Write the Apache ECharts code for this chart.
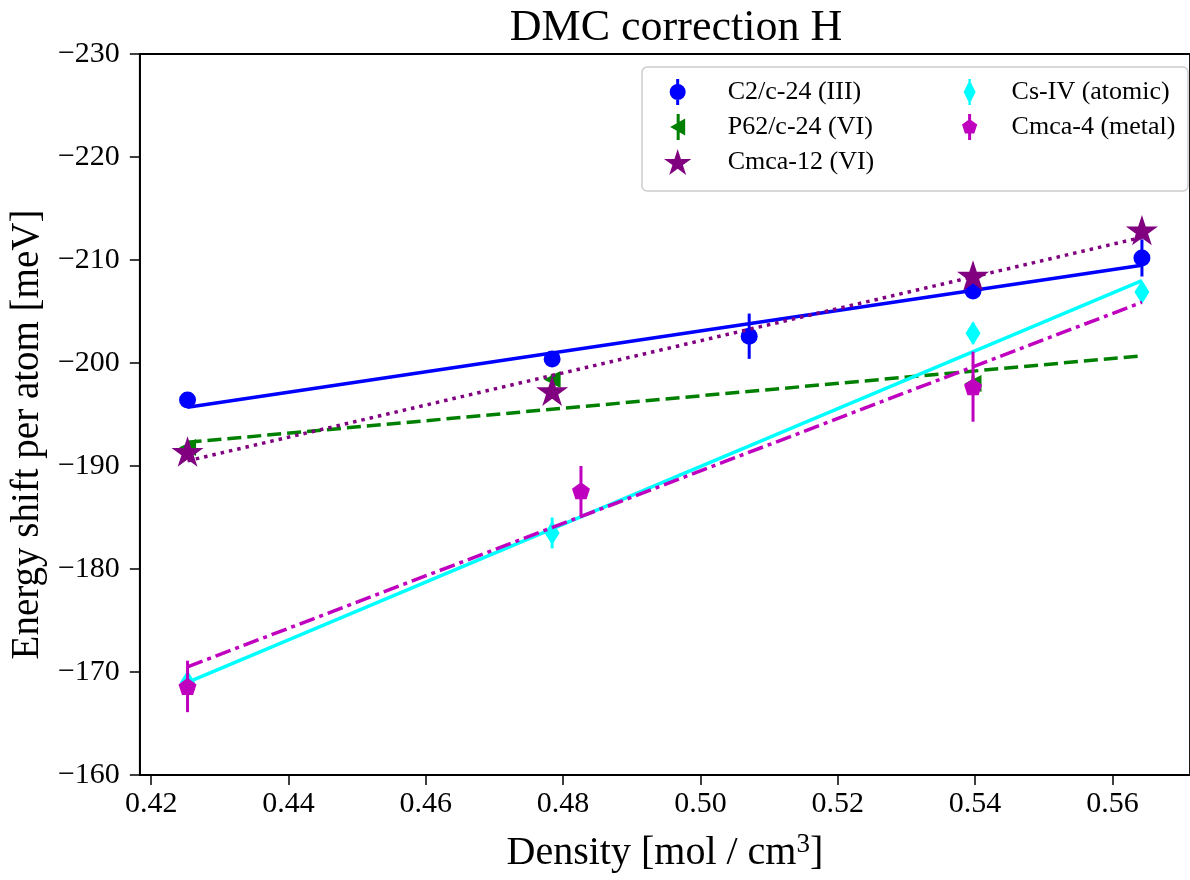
<!DOCTYPE html>
<html>
<head>
<meta charset="utf-8">
<script src="https://cdn.jsdelivr.net/npm/echarts@6/dist/echarts.min.js"></script>
<style>
html,body{margin:0;padding:0;background:#fff;overflow:hidden;}
#chart{width:1190px;height:880px;}
</style>
</head>
<body>
<div id="chart"></div>
<script>
// ---- data ----
const xTicks = [0.42, 0.44, 0.46, 0.48, 0.50, 0.52, 0.54, 0.56];

const c2cX = [0.4253, 0.4784, 0.5071, 0.5397, 0.5643];
const c2cY = [-196.4, -200.4, -202.6, -207.0, -210.2];
const c2cErr = [0.5, 0.5, 2.2, 0.6, 1.8];

const p62X = [0.4253, 0.4784, 0.5397];
const p62Y = [-191.8, -198.4, -198.0];
const p62Err = [0.5, 0.5, 0.8];

const cmca12X = [0.4253, 0.4784, 0.5397, 0.5643];
const cmca12Y = [-191.4, -197.3, -208.5, -212.9];
const cmca12Err = [0.5, 0.5, 0.5, 0.5];

const csIVX = [0.4253, 0.4784, 0.5397, 0.5643];
const csIVY = [-169.0, -183.5, -202.9, -206.9];
const csIVErr = [0.8, 1.5, 1.0, 0.8];

const cmca4X = [0.4253, 0.4826, 0.5397];
const cmca4Y = [-168.6, -187.6, -197.7];
const cmca4Err = [2.5, 2.4, 3.4];

// fit lines (end points)
const fitX = [0.4253, 0.5643];
const c2cFit = [-195.7, -209.5];
const p62Fit = [-192.3, -200.7];
const cmca12Fit = [-190.5, -212.2];
const csIVFit = [-169.0, -208.0];
const cmca4Fit = [-170.5, -205.9];

const names = ['C2/c-24 (III)', 'P62/c-24 (VI)', 'Cmca-12 (VI)', 'Cs-IV (atomic)', 'Cmca-4 (metal)'];

// ---- styling ----
const FONT = '"Liberation Serif", "DejaVu Serif", serif';
const starPath = 'path://M10,0L12.245,6.91L19.51,6.91L13.633,11.18L15.88,18.09L10,13.82L4.12,18.09L6.367,11.18L0.49,6.91L7.755,6.91Z';
const pentPath = 'path://M10,0L19.51,6.91L15.88,18.09L4.12,18.09L0.49,6.91Z';

const iconCircle = 'path://M8.5,0H11.5V26H8.5ZM10,5A8,8 0 1 1 10,21A8,8 0 1 1 10,5Z';
const iconTri = 'path://M8.5,0H11.5V26H8.5ZM2,13L17,4.5L17,21.5Z';
const iconStar = starPath;
const iconDiamond = 'path://M8.8,0H11.2V26H8.8ZM10,1L16,13L10,25L4,13Z';
const iconPent = 'path://M8.5,0H11.5V26H8.5ZM10,5L17.61,10.53L14.7,19.47L5.3,19.47L2.39,10.53Z';

function buildSeries(idx, name, X, Y, Err, fit, color, symbol, size, rotate, lineType) {
  const base = 10 + idx * 4;
  const errData = X.map((x, i) => [x, Y[i] - Err[i], Y[i] + Err[i]]);
  const ptData = X.map((x, i) => [x, Y[i]]);
  const fitData = fitX.map((x, i) => [x, fit[i]]);
  return [
    {
      type: 'custom', name: name + ' err', z: base, silent: true,
      data: errData, encode: {x: 0, y: [1, 2]},
      renderItem: function (params, api) {
        const p1 = api.coord([api.value(0), api.value(1)]);
        const p2 = api.coord([api.value(0), api.value(2)]);
        return {type: 'line', shape: {x1: p1[0], y1: p1[1], x2: p2[0], y2: p2[1]},
                style: {stroke: color, lineWidth: 3}};
      }
    },
    {
      type: 'scatter', name: name, z: base + 1, data: ptData,
      symbol: symbol, symbolSize: size, symbolRotate: rotate, symbolKeepAspect: true,
      itemStyle: {color: color, opacity: 1}, emphasis: {disabled: true}
    },
    {
      type: 'line', name: name + ' fit', z: base + 2, data: fitData,
      showSymbol: false, symbol: 'none', silent: true,
      lineStyle: {color: color, width: 3.5, type: lineType, cap: 'butt'},
      itemStyle: {color: color}
    }
  ];
}

const series = [].concat(
  buildSeries(0, names[0], c2cX, c2cY, c2cErr, c2cFit, '#0000ff', 'circle', 17, 0, 'solid'),
  buildSeries(1, names[1], p62X, p62Y, p62Err, p62Fit, '#008000', 'triangle', 17, 90, [14, 6]),
  buildSeries(2, names[2], cmca12X, cmca12Y, cmca12Err, cmca12Fit, '#800080', starPath, 32, 0, [3.5, 5]),
  buildSeries(3, names[3], csIVX, csIVY, csIVErr, csIVFit, '#00ffff', 'diamond', [15, 24], 0, 'solid'),
  buildSeries(4, names[4], cmca4X, cmca4Y, cmca4Err, cmca4Fit, '#bf00bf', pentPath, 18, 0, [16, 5, 4, 5])
);

const legendText = {fontSize: 26, fontFamily: FONT, color: '#000'};

const option = {
  animation: false,
  backgroundColor: '#fff',
  title: {
    text: 'DMC correction H', left: 671, top: 1, textAlign: 'center',
    textStyle: {fontSize: 44, fontWeight: 'normal', fontFamily: FONT, color: '#000'}
  },
  grid: {
    left: 137, top: 54, width: 1069, height: 730, containLabel: false,
    show: true, borderColor: '#000', borderWidth: 1.8, backgroundColor: 'transparent'
  },
  xAxis: {
    type: 'value', min: 0.41835, max: 0.5713,
    axisLine: {show: true, lineStyle: {color: '#000', width: 1.8}},
    axisTick: {show: true, customValues: xTicks, length: 10, lineStyle: {color: '#000', width: 1.5}},
    axisLabel: {customValues: xTicks, formatter: v => v.toFixed(2), fontSize: 30, fontFamily: FONT, color: '#000', margin: 14},
    splitLine: {show: false},
    name: 'Density [mol / cm{sup|3}]', nameLocation: 'middle', nameGap: 56,
    nameTextStyle: {
      fontSize: 40, fontFamily: FONT, color: '#000', lineHeight: 44,
      rich: {sup: {fontSize: 27, fontFamily: FONT, color: '#000', verticalAlign: 'top', lineHeight: 27}}
    }
  },
  yAxis: {
    type: 'value', min: -230, max: -160, interval: 10, inverse: true,
    axisLine: {show: true, lineStyle: {color: '#000', width: 1.8}},
    axisTick: {show: true, length: 10, lineStyle: {color: '#000', width: 1.5}},
    axisLabel: {formatter: v => '\u2212' + Math.abs(v), fontSize: 30, fontFamily: FONT, color: '#000', margin: 20},
    splitLine: {show: false},
    name: 'Energy shift per atom [meV]', nameLocation: 'middle', nameGap: 77,
    nameTextStyle: {fontSize: 39, fontFamily: FONT, color: '#000', padding: [0, 40, 0, 0]}
  },
  graphic: [{
    type: 'rect', z: 50,
    shape: {x: 642, y: 67, width: 546, height: 124, r: 5},
    style: {fill: 'rgba(255,255,255,0.85)', stroke: '#cccccc', lineWidth: 1.5}
  }],
  legend: [
    {
      orient: 'vertical', left: 664, top: 79, padding: 0, itemGap: 9,
      itemWidth: 90, itemHeight: 26, z: 60, selectedMode: false,
      textStyle: legendText,
      data: [
        {name: names[0], icon: iconCircle},
        {name: names[1], icon: iconTri},
        {name: names[2], icon: iconStar}
      ]
    },
    {
      orient: 'vertical', left: 962, top: 79, padding: 0, itemGap: 9,
      itemWidth: 74, itemHeight: 26, z: 60, selectedMode: false,
      textStyle: legendText,
      data: [
        {name: names[3], icon: iconDiamond},
        {name: names[4], icon: iconPent}
      ]
    }
  ],
  series: series
};

const chart = echarts.init(document.getElementById('chart'), null, {renderer: 'canvas'});
chart.setOption(option);
</script>
</body>
</html>
